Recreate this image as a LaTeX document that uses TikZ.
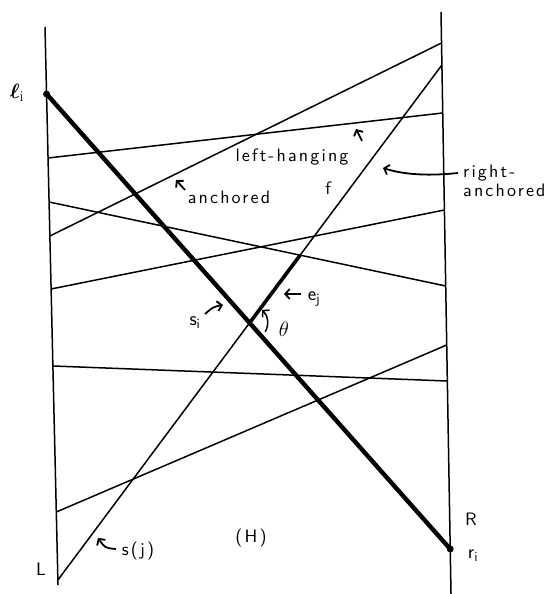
\documentclass[tikz,border=0pt]{standalone}
\usepackage{fontspec}
\usepackage{amsmath}
\usetikzlibrary{arrows.meta}
\newfontfamily\lblfont{lmsans10-regular.otf}[LetterSpace=12]
\newcommand\lblsize{\fontsize{18}{19}\selectfont}
\newcommand\mathlblsize{\fontsize{20}{22}\selectfont}
\tikzset{
  thinline/.style={line width=1.5pt},
  heavy/.style={line width=4.4pt, line cap=round},
  heavyf/.style={line width=3.6pt},
  lbl/.style={font=\lblsize\lblfont, inner sep=0pt},
  mlbl/.style={font=\mathlblsize, inner sep=0pt},
  ptr/.style={line width=1.8pt, -{Straight Barb[length=4.5pt,width=10pt]}},
  dot/.style={circle, fill, inner sep=0pt, minimum size=7pt}
}
\begin{document}
\begin{tikzpicture}[x=1pt,y=1pt]
\useasboundingbox (0,0) rectangle (554,594);
% boundaries
\coordinate (Ltop) at (45,567);
\coordinate (Lbot) at (58,9);
\coordinate (Rtop) at (441,582);
\coordinate (Rbot) at (451,0);
\draw[thinline] (Ltop) -- (Lbot);
\draw[thinline] (Rtop) -- (Rbot);
% segment end points
\coordinate (aL) at (48,436);   \coordinate (aR) at (442.7,481);
\coordinate (bL) at (49.9,358); \coordinate (bR) at (441.5,551);
\coordinate (fL) at (57.9,14);  \coordinate (fR) at (441.9,529);
\coordinate (cL) at (49.1,392); \coordinate (cR) at (445.7,308);
\coordinate (dL) at (51.1,305); \coordinate (dR) at (444.4,384);
\coordinate (gL) at (52.9,228); \coordinate (gR) at (447.3,213);
\coordinate (hL) at (56.3,82);  \coordinate (hR) at (446.7,249);
\coordinate (li) at (46.6,500); \coordinate (ri) at (450.2,45);
\draw[thinline] (aL) -- (aR);
\draw[thinline] (bL) -- (bR);
\draw[thinline] (fL) -- (fR);
\draw[thinline] (cL) -- (cR);
\draw[thinline] (dL) -- (dR);
\draw[thinline] (gL) -- (gR);
\draw[thinline] (hL) -- (hR);
\coordinate (si) at (intersection of li--ri and fL--fR);
\coordinate (ej) at (intersection of fL--fR and cL--cR);
\draw[heavy] (li) -- (ri);
\draw[heavyf] (si) -- (ej);
\node[dot] (lidot) at (li) {};
\node[dot] (ridot) at (ri) {};
% theta arc
\draw[ptr, line width=1.5pt] ([shift={(-30:18)}]si) arc[start angle=-30, end angle=46, radius=18pt];
% labels
\node[mlbl, font=\fontsize{22}{24}\selectfont] (ell) at (17,501) {$\boldsymbol{\ell}_{\mathrm{i}}$};
\node[lbl] (lefthang) at (292,437) {left-hanging};
\node[lbl] (anch) at (229,397) {anchored};
\node[lbl] (flbl) at (328,406) {f};
\node[lbl, align=left, anchor=west] (ranch) at (463,413) {right-\\anchored};
\node[mlbl] (slbl) at (195,271) {$\mathsf{s}_{\mathsf{i}}$};
\node[mlbl] (elbl) at (314,295) {$\mathsf{e}_{\mathsf{j}}$};
\node[mlbl] (theta) at (284,265) {$\theta$};
\node[mlbl] (rlbl) at (473,38) {$\mathsf{r}_{\mathsf{i}}$};
\node[lbl] (Hlbl) at (251,56) {(H)};
\node[lbl] (sjlbl) at (138,43) {s(j)};
\node[lbl] (Llbl) at (41,25) {L};
\node[lbl] (Rlbl) at (471,75) {R};
% pointer arrows
\coordinate (lhT) at (362,453); \coordinate (lhH) at (356,465);
\draw[ptr] (lhT) -- (lhH);
\coordinate (anT) at (185,404); \coordinate (anH) at (176,414);
\draw[ptr] (anT) -- (anH);
\coordinate (raT) at (458,421); \coordinate (raH) at (383,426);
\draw[ptr] (raT) .. controls (430,418) and (405,419) .. (raH);
\coordinate (sjT) at (116,45); \coordinate (sjH) at (98,56);
\draw[ptr] (sjT) .. controls (105,46) .. (sjH);
\coordinate (siT) at (205,280); \coordinate (siH) at (223,289);
\draw[ptr] (siT) .. controls (213,287) .. (siH);
\coordinate (ejT) at (301,300); \coordinate (ejH) at (284,300);
\draw[ptr] (ejT) -- (ejH);
\end{tikzpicture}
\end{document}
